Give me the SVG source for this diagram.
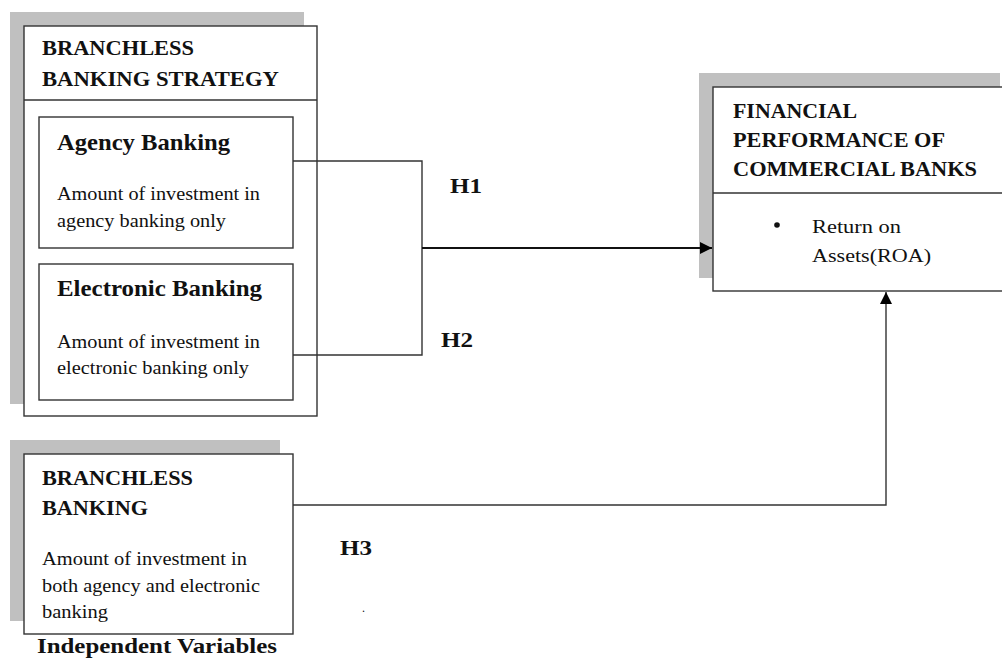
<svg xmlns="http://www.w3.org/2000/svg" width="1002" height="658" viewBox="0 0 1002 658">
<defs>
<marker id="ah" viewBox="0 0 10 10" refX="10" refY="5" markerWidth="14" markerHeight="12" markerUnits="userSpaceOnUse" orient="auto"><path d="M0,0 L10,5 L0,10 z" fill="#000"/></marker>
<style>
.sh{fill:#c0c0c0;stroke:none}
.bx{fill:#fff;stroke:#333;stroke-width:1.4}
.ln{fill:none;stroke:#333;stroke-width:1.4}
.hd{font-family:"Liberation Serif","Times New Roman",serif;font-weight:bold;font-size:20px;fill:#111}
.sub{font-family:"Liberation Serif","Times New Roman",serif;font-weight:bold;font-size:23px;fill:#111}
.bd{font-family:"Liberation Serif","Times New Roman",serif;font-size:19px;fill:#111}
.hl{font-family:"Liberation Serif","Times New Roman",serif;font-weight:bold;font-size:22px;fill:#111}
</style>
</defs>
<rect width="1002" height="658" fill="#fff"/>
<g id="strategy">
<rect class="sh" x="10" y="12" width="294" height="392"/>
<rect class="bx" x="24" y="26" width="293" height="390"/>
<line class="ln" x1="24" y1="100" x2="317" y2="100"/>
<text class="hd" x="42" y="55" textLength="152" lengthAdjust="spacingAndGlyphs">BRANCHLESS</text>
<text class="hd" x="42" y="86" textLength="237" lengthAdjust="spacingAndGlyphs">BANKING STRATEGY</text>
</g>
<g id="agency">
<rect class="bx" x="39" y="117" width="254" height="131"/>
<text class="sub" x="57" y="150" textLength="173" lengthAdjust="spacingAndGlyphs">Agency Banking</text>
<text class="bd" x="57" y="200" textLength="203" lengthAdjust="spacingAndGlyphs">Amount of investment in</text>
<text class="bd" x="57" y="227" textLength="169" lengthAdjust="spacingAndGlyphs">agency banking only</text>
</g>
<g id="electronic">
<rect class="bx" x="39" y="264" width="254" height="136"/>
<text class="sub" x="57" y="296" textLength="205" lengthAdjust="spacingAndGlyphs">Electronic Banking</text>
<text class="bd" x="57" y="348" textLength="203" lengthAdjust="spacingAndGlyphs">Amount of investment in</text>
<text class="bd" x="57" y="374" textLength="192" lengthAdjust="spacingAndGlyphs">electronic banking only</text>
</g>
<g id="performance">
<rect class="sh" x="699" y="73" width="301" height="205"/>
<rect class="bx" x="713" y="87" width="300" height="204"/>
<line class="ln" x1="713" y1="193" x2="1002" y2="193"/>
<text class="hd" x="733" y="118" textLength="124" lengthAdjust="spacingAndGlyphs">FINANCIAL</text>
<text class="hd" x="733" y="147" textLength="212" lengthAdjust="spacingAndGlyphs">PERFORMANCE OF</text>
<text class="hd" x="733" y="176" textLength="244" lengthAdjust="spacingAndGlyphs">COMMERCIAL BANKS</text>
<circle cx="777" cy="225" r="2.8" fill="#111"/>
<text class="bd" x="812" y="233" textLength="89" lengthAdjust="spacingAndGlyphs">Return on</text>
<text class="bd" x="812" y="262" textLength="119" lengthAdjust="spacingAndGlyphs">Assets(ROA)</text>
</g>
<g id="branchless">
<rect class="sh" x="10" y="440" width="270" height="181"/>
<rect class="bx" x="24" y="454" width="269" height="180"/>
<text class="hd" x="42" y="485" textLength="151" lengthAdjust="spacingAndGlyphs">BRANCHLESS</text>
<text class="hd" x="42" y="515" textLength="106" lengthAdjust="spacingAndGlyphs">BANKING</text>
<text class="bd" x="42" y="565" textLength="205" lengthAdjust="spacingAndGlyphs">Amount of investment in</text>
<text class="bd" x="42" y="592" textLength="218" lengthAdjust="spacingAndGlyphs">both agency and electronic</text>
<text class="bd" x="42" y="618" textLength="66" lengthAdjust="spacingAndGlyphs">banking</text>
</g>
<g id="label-independent">
<text class="hd" x="37" y="653" style="font-size:22px" textLength="240" lengthAdjust="spacingAndGlyphs">Independent Variables</text>
</g>
<g id="connectors">
<polyline class="ln" points="293,161 422,161 422,355 293,355"/>
<line x1="422" y1="248" x2="712" y2="248" stroke="#111" stroke-width="2.2" marker-end="url(#ah)"/>
<polyline class="ln" points="293,505 886,505 886,292" marker-end="url(#ah)"/>
<text class="hl" x="450" y="193" textLength="32" lengthAdjust="spacingAndGlyphs">H1</text>
<text class="hl" x="441" y="347" textLength="32" lengthAdjust="spacingAndGlyphs">H2</text>
<text class="hl" x="340" y="555" textLength="32" lengthAdjust="spacingAndGlyphs">H3</text>
<text class="bd" x="362" y="612" style="font-size:12px">.</text>
</g>
</svg>
